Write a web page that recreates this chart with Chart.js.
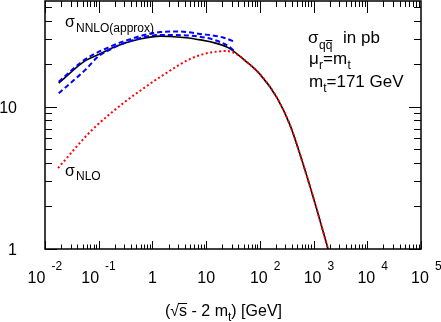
<!DOCTYPE html>
<html>
<head>
<meta charset="utf-8">
<script src="https://cdn.jsdelivr.net/npm/chart.js@4/dist/chart.umd.min.js"></script>
<style>
  html, body { margin: 0; padding: 0; background: #fff; }
  canvas { display: block; }
</style>
</head>
<body>
<canvas id="xsec" width="441" height="322"></canvas>
<script>
// sigma_NNLO(approx), black solid
const nnloX = [0.018, 0.0556, 0.1, 0.177, 0.31, 0.59, 1.39, 2.1, 6.2, 25.6, 53, 101, 209, 365, 561, 1020, 1862];
const nnloY = [14.6, 20.9, 23.2, 25.7, 27.9, 29.8, 31.2, 31.0, 29.8, 25.9, 21.0, 16.8, 11.5, 7.4, 4.6, 2.21, 1.0];

// scale band, blue dashed
const bandUpX = [0.018, 0.0556, 0.177, 0.31, 1.39, 3.0, 7.7, 20, 34.5];
const bandUpY = [14.9, 21.4, 26.6, 28.9, 33.3, 33.6, 32.3, 30.6, 28.4];
const bandLoX = [0.018, 0.0556, 0.1, 0.177, 0.31, 1.39, 6.2, 25.6, 34];
const bandLoY = [12.4, 18.0, 22.6, 25.5, 28.0, 31.8, 31.2, 26.6, 24.3];

// sigma_NLO, red dotted
const nloX = [0.0175, 0.075, 0.31, 0.59, 1.39, 6.2, 24.5, 39, 53, 101, 209, 365, 561, 1020, 1862];
const nloY = [3.7, 6.84, 10.8, 12.9, 16.1, 22.3, 24.5, 23.0, 21.0, 16.8, 11.5, 7.4, 4.6, 2.21, 1.0];

// axis ticks
const xTickValues = [0.01, 0.1, 1, 10, 100, 1000, 10000, 100000];
const xTickBase = ['10', '10', '1', '10', '10', '10', '10', '10'];
const xTickExp = ['-2', '-1', '', '', '2', '3', '4', '5'];
const yTickValues = [1, 10];
const yTickLabels = ['1', '10'];

const FONT = '"Liberation Sans", Arial, sans-serif';

function pts(xs, ys) {
  return xs.map((x, i) => ({ x: x, y: ys[i] }));
}

function txt(ctx, s, x, y, size, align) {
  ctx.font = size + 'px ' + FONT;
  ctx.textAlign = align || 'left';
  ctx.fillText(s, x, y);
  return ctx.measureText(s).width;
}

const frame = {
  id: 'frame',
  afterDatasetsDraw(chart) {
    const ctx = chart.ctx;
    const a = chart.chartArea;
    const xs = chart.scales.x, ys = chart.scales.y;
    ctx.save();
    ctx.fillStyle = '#000';
    ctx.strokeStyle = '#000';
    ctx.textBaseline = 'alphabetic';

    // box
    ctx.lineWidth = 1.5;
    ctx.strokeRect(a.left, a.top, a.right - a.left, a.bottom - a.top);

    // ticks, inward on all sides
    ctx.lineWidth = 1;
    ctx.beginPath();
    for (let e = -2; e < 5; e++) {
      for (let m = 1; m < 10; m++) {
        const px = Math.round(xs.getPixelForValue(m * Math.pow(10, e))) + 0.5;
        const lb = m === 1 ? 8 : 4.5;
        const lt = m === 1 ? 12 : 6;
        ctx.moveTo(px, a.bottom); ctx.lineTo(px, a.bottom - lb);
        ctx.moveTo(px, a.top); ctx.lineTo(px, a.top + lt);
      }
    }
    const pxEnd = Math.round(xs.getPixelForValue(1e5)) + 0.5;
    ctx.moveTo(pxEnd, a.bottom); ctx.lineTo(pxEnd, a.bottom - 8);
    for (let e = 0; e < 2; e++) {
      for (let m = 1; m < 10; m++) {
        const v = m * Math.pow(10, e);
        if (v > ys.max) break;
        const py = Math.round(ys.getPixelForValue(v)) + 0.5;
        const l = m === 1 ? 12 : 7;
        ctx.moveTo(a.left, py); ctx.lineTo(a.left + l, py);
        ctx.moveTo(a.right, py); ctx.lineTo(a.right - l, py);
      }
    }
    ctx.stroke();

    // x tick labels
    xTickValues.forEach((v, i) => {
      const px = xs.getPixelForValue(v);
      const exp = xTickExp[i];
      ctx.font = '16px ' + FONT;
      const w = ctx.measureText(xTickBase[i]).width;
      let cx = px;
      if (exp.startsWith('-')) cx = px - 8.5;
      else if (exp) cx = px - 1;
      txt(ctx, xTickBase[i], cx - w / 2, 283, 16);
      if (exp) txt(ctx, exp, cx + w / 2 + 6, 270, 12);
    });

    // y tick labels
    yTickValues.forEach((v, i) => {
      const py = ys.getPixelForValue(v);
      txt(ctx, yTickLabels[i], 17, py + 6, 16, 'right');
    });

    // x axis title
    const parts = ['(√', 's', ' - 2 m'];
    let x0 = 165;
    const wA = txt(ctx, parts[0], x0, 316, 16);
    const wS = txt(ctx, parts[1], x0 + wA, 316, 16);
    ctx.lineWidth = 1;
    ctx.beginPath();
    ctx.moveTo(x0 + wA - 1, 303.5); ctx.lineTo(x0 + wA + wS, 303.5);
    ctx.stroke();
    const wB = txt(ctx, parts[2], x0 + wA + wS, 316, 16);
    let xx = x0 + wA + wS + wB;
    xx += txt(ctx, 't', xx, 321, 12);
    txt(ctx, ') [GeV]', xx, 316, 16);

    // curve labels
    txt(ctx, 'σ', 65, 27, 16);
    txt(ctx, 'NNLO(approx)', 76, 32, 12);
    txt(ctx, 'σ', 65, 176, 16);
    txt(ctx, 'NLO', 76, 180, 12);

    // info block
    txt(ctx, 'σ', 308, 43, 17);
    const wq = txt(ctx, 'q', 319, 49, 12);
    txt(ctx, 'q', 319 + wq, 49, 12);
    ctx.beginPath();
    ctx.moveTo(319 + wq, 40.5); ctx.lineTo(319 + 2 * wq, 40.5);
    ctx.stroke();
    txt(ctx, 'in pb', 343, 43, 17);

    txt(ctx, 'μ', 309, 64, 17);
    txt(ctx, 'r', 319, 69, 12);
    const wm = txt(ctx, '=m', 323, 64, 17);
    txt(ctx, 't', 323 + wm + 0.5, 69, 12);

    const wm2 = txt(ctx, 'm', 309, 87, 17);
    const wt = txt(ctx, 't', 309 + wm2, 92, 12);
    txt(ctx, '=171 GeV', 309 + wm2 + wt, 87, 17);

    ctx.restore();
  }
};

let ctxChart = document.getElementById('xsec').getContext('2d');
let xsecChart = new Chart(ctxChart, {
  type: 'scatter',
  data: {
    datasets: [
      {
        label: 'NLO',
        data: pts(nloX, nloY),
        showLine: true,
        borderColor: '#ff0000',
        borderWidth: 2,
        borderDash: [2, 2.5],
        pointRadius: 0,
        cubicInterpolationMode: 'monotone',
        order: 0
      },
      {
        label: 'band up',
        data: pts(bandUpX, bandUpY),
        showLine: true,
        borderColor: '#0000ff',
        borderWidth: 2,
        borderDash: [5, 3],
        pointRadius: 0,
        cubicInterpolationMode: 'monotone',
        order: 1
      },
      {
        label: 'band low',
        data: pts(bandLoX, bandLoY),
        showLine: true,
        borderColor: '#0000ff',
        borderWidth: 2,
        borderDash: [5, 3],
        pointRadius: 0,
        cubicInterpolationMode: 'monotone',
        order: 1
      },
      {
        label: 'NNLO approx',
        data: pts(nnloX, nnloY),
        showLine: true,
        borderColor: '#000000',
        borderWidth: 1.6,
        pointRadius: 0,
        cubicInterpolationMode: 'monotone',
        order: 2
      }
    ]
  },
  options: {
    responsive: false,
    animation: false,
    devicePixelRatio: 1,
    layout: { padding: { top: 1, right: 20, left: 0, bottom: 0 } },
    scales: {
      x: {
        type: 'logarithmic',
        min: 0.01,
        max: 100000,
        grid: { display: false },
        border: { display: false },
        ticks: { display: false },
        afterFit: s => { s.height = 73; }
      },
      y: {
        type: 'logarithmic',
        min: 1,
        max: 55,
        grid: { display: false },
        border: { display: false },
        ticks: { display: false },
        afterFit: s => { s.width = 45; }
      }
    },
    plugins: {
      legend: { display: false },
      tooltip: { enabled: false }
    }
  },
  plugins: [frame]
});
</script>
</body>
</html>
